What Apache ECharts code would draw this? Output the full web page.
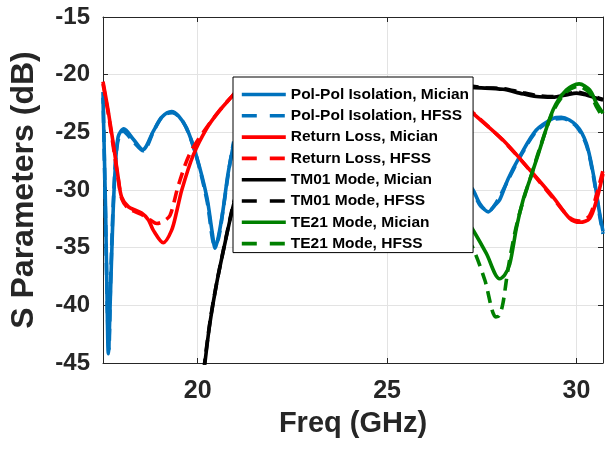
<!DOCTYPE html>
<html>
<head>
<meta charset="utf-8">
<script src="https://cdn.jsdelivr.net/npm/echarts@6/dist/echarts.min.js"></script>
<style>html,body{margin:0;padding:0;background:#fff}#c{width:607px;height:452px}</style>
</head>
<body>
<div id="c"></div>
<script>
// ---- data (null = line hidden/broken behind legend) ----
const seriesNames = ['Pol-Pol Isolation, Mician','Pol-Pol Isolation, HFSS','Return Loss, Mician','Return Loss, HFSS','TM01 Mode, Mician','TM01 Mode, HFSS','TE21 Mode, Mician','TE21 Mode, HFSS'];
const xTicks = [20, 25, 30];

const isoMicianF = [17.50,17.57,17.61,17.64,17.70,17.76,17.82,17.90,18.05,18.30,18.55,18.83,19.05,19.31,19.50,19.71,19.97,20.24,20.38,20.46,20.55,20.67,20.80,20.95, 24, 27.10,27.27,27.45,27.67,27.85,27.97,28.20,28.50,28.94,29.38,29.60,30.00,30.26,30.44,30.61,30.70];
const isoMicianY = [-22.0,-32.0,-40.0,-44.2,-38.7,-32.5,-28.3,-25.4,-24.7,-25.6,-26.5,-24.9,-23.7,-23.2,-23.6,-24.65,-27.1,-30.6,-33.6,-35.05,-34.0,-31.7,-28.6,-26.0, null, -29.3,-30.0,-31.2,-31.9,-31.3,-30.87,-29.0,-27.1,-24.8,-23.8,-23.7,-24.4,-25.95,-28.55,-32.0,-33.6];

const isoHfssF = [17.50,17.57,17.62,17.655,17.70,17.78,17.88,18.03,18.30,18.56,18.85,19.10,19.33,19.55,19.75,20.00,20.25,20.45,20.55,20.68,20.82,20.95, 24, 27.10,27.27,27.47,27.68,27.90,28.20,28.50,28.94,29.38,29.62,30.00,30.26,30.44,30.61,30.70];
const isoHfssY = [-21.5,-33.0,-41.0,-43.8,-38.0,-30.5,-26.0,-24.9,-25.8,-26.6,-24.8,-23.5,-23.3,-23.8,-25.0,-27.5,-31.0,-34.8,-34.2,-31.5,-28.3,-25.8, null, -29.5,-30.2,-31.4,-31.8,-31.0,-29.1,-27.2,-24.9,-23.9,-23.8,-24.5,-26.1,-28.7,-32.2,-33.8];

const rlMicianF = [17.50,17.64,17.77,17.90,17.99,18.17,18.52,18.70,18.83,19.09,19.31,19.45,19.58,19.88,20.24,20.59,20.90,21.00, 24, 27.10,27.27,28.06,28.77,29.38,29.82,30.09,30.35,30.53,30.70];
const rlMicianY = [-20.6,-23.2,-25.95,-28.9,-30.6,-31.45,-32.0,-32.6,-33.5,-34.57,-33.5,-31.8,-30.0,-27.0,-24.65,-23.06,-21.9,-21.5, null, -22.8,-23.35,-25.67,-28.27,-30.6,-32.46,-32.8,-32.46,-30.87,-28.6];

const rlHfssF = [17.50,17.64,17.77,17.90,18.00,18.17,18.50,18.75,18.92,19.10,19.27,19.49,19.80,20.32,20.85,21.00, 24, 27.10,27.27,28.06,28.77,29.38,29.82,30.09,30.35,30.53,30.70];
const rlHfssY = [-20.8,-23.4,-26.2,-29.0,-30.8,-31.6,-32.1,-32.6,-32.9,-32.7,-32.2,-29.6,-26.8,-24.2,-22.05,-21.6, null, -22.7,-23.3,-25.7,-28.3,-30.7,-32.4,-32.7,-32.2,-30.4,-28.3];

const tmMicianF = [20.10,20.19,20.32,20.50,20.72,20.90,21.00, 24, 27.10,27.26,28.06,28.50,28.94,29.38,29.73,30.00,30.26,30.53,30.70];
const tmMicianY = [-47.5,-45.0,-41.6,-38.1,-34.6,-31.9,-30.6, null, -21.0,-21.1,-21.27,-21.6,-21.9,-21.96,-21.76,-21.6,-21.76,-22.05,-22.2];

const tmHfssF = [20.10,20.19,20.33,20.51,20.73,20.90,21.00, 24, 27.10,27.26,27.60,28.06,28.50,28.94,29.38,29.73,30.00,30.26,30.53,30.70];
const tmHfssY = [-47.3,-44.8,-41.3,-37.9,-34.4,-31.8,-30.5, null, -20.9,-21.0,-21.15,-21.2,-21.5,-21.8,-21.9,-21.7,-21.5,-21.7,-21.95,-22.15];

const teMicianF = [27.10,27.27,27.62,27.97,28.10,28.24,28.42,28.59,28.77,29.00,29.38,29.73,30.07,30.35,30.53,30.70];
const teMicianY = [-32.6,-33.47,-35.5,-37.7,-37.4,-36.4,-33.2,-30.87,-29.1,-26.8,-23.06,-21.33,-20.8,-21.33,-22.5,-23.35];

const teHfssF = [27.10,27.27,27.58,27.87,27.96,28.06,28.19,28.37,28.50,28.65,28.80,29.00,29.38,29.73,30.05,30.35,30.53,30.70];
const teHfssY = [-34.2,-35.06,-37.8,-41.0,-40.9,-39.8,-36.9,-33.75,-32.0,-30.3,-28.8,-26.7,-23.2,-21.5,-21.0,-21.6,-22.8,-23.7];

// ---- chart ----
const pairs = (f, y) => f.map((x, i) => [x, y[i]]);
const colors = ['#0072BD','#0072BD','#FF0000','#FF0000','#000000','#000000','#008000','#008000'];
const dataSets = [
  pairs(isoMicianF, isoMicianY), pairs(isoHfssF, isoHfssY),
  pairs(rlMicianF, rlMicianY), pairs(rlHfssF, rlHfssY),
  pairs(tmMicianF, tmMicianY), pairs(tmHfssF, tmHfssY),
  pairs(teMicianF, teMicianY), pairs(teHfssF, teHfssY)
];
const font = '"Liberation Sans", Arial, Helvetica, sans-serif';
const axisColor = '#262626';

const series = seriesNames.map((n, i) => ({
  name: n,
  type: 'line',
  data: dataSets[i],
  symbol: 'none',
  smooth: 0.3,
  connectNulls: false,
  clip: true,
  lineStyle: { color: colors[i], width: 3.6, type: i % 2 ? [12, 7] : 'solid' },
  itemStyle: { color: colors[i] },
  emphasis: { disabled: true }
}));

const chart = echarts.init(document.getElementById('c'), null, { renderer: 'canvas' });
chart.setOption({
  animation: false,
  backgroundColor: '#fff',
  grid: { left: 103, right: 4, top: 17, bottom: 89, containLabel: false, outerBoundsMode: 'none' },
  xAxis: [{
    type: 'value', min: 17.5, max: 30.7,
    name: 'Freq (GHz)', nameLocation: 'middle', nameGap: 46,
    nameTextStyle: { fontFamily: font, fontWeight: 'bold', fontSize: 29, color: axisColor },
    axisLine: { show: true, onZero: false, lineStyle: { color: axisColor, width: 1 } },
    axisTick: { show: true, inside: true, length: 5, customValues: xTicks, lineStyle: { color: axisColor } },
    axisLabel: { customValues: xTicks, margin: 16, fontFamily: font, fontWeight: 'bold', fontSize: 25, color: axisColor },
    splitLine: { show: true, lineStyle: { color: '#e3e3e3', width: 1 } }
  }, {
    type: 'value', min: 17.5, max: 30.7, position: 'top',
    axisLine: { show: true, onZero: false, lineStyle: { color: axisColor, width: 1 } },
    axisTick: { show: true, inside: true, length: 5, customValues: xTicks, lineStyle: { color: axisColor } },
    axisLabel: { show: false }, splitLine: { show: false }
  }],
  yAxis: [{
    type: 'value', min: -45, max: -15, interval: 5,
    name: 'S Parameters (dB)', nameLocation: 'middle', nameGap: 63,
    nameTextStyle: { fontFamily: font, fontWeight: 'bold', fontSize: 32, color: axisColor },
    axisLine: { show: true, onZero: false, lineStyle: { color: axisColor, width: 1 } },
    axisTick: { show: true, inside: true, length: 5, lineStyle: { color: axisColor } },
    axisLabel: { margin: 13, fontFamily: font, fontWeight: 'bold', fontSize: 24, color: axisColor, padding: [8, 0, 0, 0] },
    splitLine: { show: true, lineStyle: { color: '#e3e3e3', width: 1 } }
  }, {
    type: 'value', min: -45, max: -15, interval: 5, position: 'right',
    axisLine: { show: true, onZero: false, lineStyle: { color: axisColor, width: 1 } },
    axisTick: { show: true, inside: true, length: 5, lineStyle: { color: axisColor } },
    axisLabel: { show: false }, splitLine: { show: false }
  }],
  legend: {
    orient: 'vertical', left: 233, top: 77,
    backgroundColor: '#fff', borderColor: '#000', borderWidth: 1, borderRadius: 0,
    padding: [9.5, 4, 1, 7], itemGap: 5.3, itemWidth: 44, itemHeight: 14,
    selectedMode: false,
    itemStyle: { opacity: 0 },
    textStyle: { fontFamily: font, fontWeight: 'bold', fontSize: 15.5, color: '#000' },
    data: seriesNames.map((n, i) => ({
      name: n,
      itemStyle: { opacity: 0 },
      lineStyle: { color: colors[i], width: 3.6, type: i % 2 ? [15, 13] : 'solid' }
    }))
  },
  series: series
});
</script>
</body>
</html>
